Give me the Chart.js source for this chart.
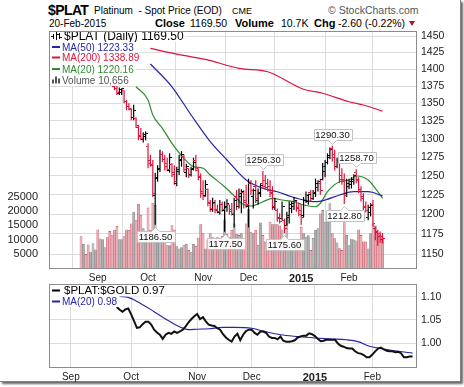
<!DOCTYPE html>
<html>
<head>
<meta charset="utf-8">
<script src="https://cdn.jsdelivr.net/npm/chart.js@4.4.1/dist/chart.umd.min.js"></script>
<style>
html,body{margin:0;padding:0;background:#fff}
body{width:464px;height:387px;position:relative;overflow:hidden;font-family:"Liberation Sans",Arial,sans-serif}
#frame{position:absolute;left:0;top:0;width:460px;height:381px;background:#fff;border-right:1px solid #808080;border-bottom:1px solid #808080;box-shadow:2px 2px 2px rgba(0,0,0,.6)}
.t{position:absolute;white-space:nowrap;line-height:1;color:#000}
.b{font-weight:bold}
canvas{position:absolute;left:0}
#tri{position:absolute;left:409px;top:21px;width:0;height:0;border-left:3.5px solid transparent;border-right:3.5px solid transparent;border-top:5px solid #b0102a}
</style>
</head>
<body>
<div id="frame"></div>
<div class="t b" style="left:48px;top:3px;font-size:14px;letter-spacing:-0.6px">$PLAT</div>
<div class="t" style="left:94px;top:5.5px;font-size:10px">Platinum&nbsp;&nbsp;- Spot Price (EOD)</div>
<div class="t" style="left:232px;top:6.5px;font-size:9px">CME</div>
<div class="t" style="left:328px;top:5px;font-size:10.5px;color:#555">© StockCharts.com</div>
<div class="t" style="left:49px;top:18.5px;font-size:10px">20-Feb-2015</div>
<div class="t b" style="left:155px;top:17.7px;font-size:11px">Close</div>
<div class="t" style="left:190px;top:18.1px;font-size:10.5px">1169.50</div>
<div class="t b" style="left:235px;top:17.7px;font-size:11px">Volume</div>
<div class="t" style="left:281px;top:18.1px;font-size:10.5px">10.7K</div>
<div class="t b" style="left:314px;top:17.7px;font-size:11px">Chg</div>
<div class="t" style="left:338px;top:18.1px;font-size:10.5px">-2.60 (-0.22%)</div>
<div id="tri"></div>
<canvas id="c1" width="464" height="290" style="top:0"></canvas>
<canvas id="c2" width="464" height="105" style="top:280px"></canvas>
<script>
// ---------- data ----------
const months   = ['Sep','Oct','Nov','Dec','2015','Feb'];
const monthIdx = [7, 28, 51, 70, 92, 112];
const priceTicks = [1150,1175,1200,1225,1250,1275,1300,1325,1350,1375,1400,1425,1450];
const volTicks   = [5000,10000,15000,20000,25000];
const ratioTicks = [1.00,1.05,1.10];

const priceStart = 14;
const high = [1377,1377,1373,1372,1369,1355,1350,1343,1348,1330,
1319,1315,1309,1310,1294,1278,1271,1254,1264,1285,
1283,1278,1274,1280,1267,1264,1262,1278,1283,1278,
1266,1260,1262,1274,1278,1260,1253,1244,1244,1233,
1218,1221,1218,1212,1218,1216,1216,1219,1212,1214,
1221,1231,1233,1232,1231,1238,1246,1244,1233,1244,
1233,1240,1256.3,1251,1246,1244,1236,1221,1207,1201,
1216,1194,1203,1216,1216,1222,1218,1214,1212,1222,
1229,1226,1231,1231,1246,1244,1246,1267,1271,1280,
1288,1290.3,1285,1274,1271,1260,1253,1246,1246,1248,
1252,1258.7,1248,1236,1227,1216,1212,1214,1218,1184,
1180,1178,1176];
const low = [1369,1362,1362,1362,1350,1340,1340,1326,1326,1315,
1298,1298,1295,1298,1260,1262,1222,1186.5,1242,1255,
1268,1257,1256,1254,1248,1238,1236,1251,1262,1255,
1248,1247,1249,1257,1256,1244,1221,1218,1222,1210,
1203,1203,1201,1201,1199,1203,1177.5,1203,1199,1198,
1183,1205,1207,1201,1207,1208,1183,1225,1207,1214,
1212,1222,1233,1231,1229,1222,1205,1205,1190,1188,
1192,1175.6,1185,1188,1201,1205,1203,1197,1186,1196,
1214,1212,1216,1218,1222,1229,1225,1244,1248,1265,
1272,1269,1257,1260,1240,1238,1212.8,1222,1232,1233,
1238,1240,1227,1216,1204,1202,1192,1197,1184,1167,
1160,1164,1163];
const open = [1375,1372,1364,1365,1368,1352,1346,1341,1330,1328,
1316,1305,1299,1303,1290,1270,1265,1224,1246,1258,
1279,1272,1266,1257,1265,1254,1240,1256,1270,1276,
1254,1260,1252,1258,1270,1257,1249,1229,1224,1232,
1215,1206,1214,1206,1202,1212,1205,1208,1212,1206,
1200,1222,1210,1222,1228,1218,1210,1240,1222,1235,
1218,1226,1240,1244,1240,1236,1228,1208,1205,1196,
1194,1192,1186,1195,1207,1210,1216,1208,1204,1198,
1217,1216,1228,1220,1226,1234,1240,1245,1256,1268,
1274,1286,1278,1262,1268,1250,1245,1226,1236,1238,
1242,1254,1245,1232,1222,1210,1196,1202,1212,1182,
1176,1172,1168];
const close = [1371,1365,1370,1371,1352,1345,1342,1330,1340,1318,
1303,1300,1306,1308,1266,1264,1226,1248,1260,1278,
1271,1262,1258,1274,1252,1242,1258,1272,1278,1258,
1262,1250,1259,1268,1259,1247,1226,1222,1238,1214,
1207,1215,1205,1203,1212,1206,1210,1214,1203,1201,
1218,1210,1226,1229,1215,1212,1240,1230,1231,1220,
1228,1237,1236,1234,1231,1226,1209,1216,1194,1191,
1210,1182,1198,1212,1214,1218,1207,1200,1195,1218,
1224,1225,1220,1228,1240,1242,1231,1262,1268,1277,
1285,1274,1262,1270,1245,1242,1224,1240,1242,1245,
1250,1244,1232,1220,1208,1205,1208,1211,1188,1178,
1175,1172.1,1169.5];
const volume = [11200,8500,4900,8300,5700,8700,6500,13600,10400,10100,
7300,10800,13000,11700,13500,14800,10100,10100,11200,13600,
13400,15700,19800,17000,22600,18700,14000,11500,21300,13500,
23000,22200,10500,10500,9500,9300,8000,8000,15100,13600,
7700,6900,7300,8200,8500,6300,5700,8500,7800,10700,
15400,12200,6900,10000,12200,10800,9300,10800,9300,11300,
17100,12000,11000,13400,15700,12000,11600,12200,7700,15700,
20700,12800,12200,13400,8100,16000,11600,9300,10000,16300,
15400,15400,15400,15000,13600,10900,17600,9000,8000,6300,
7500,9000,14500,12200,11000,11500,6300,10600,13400,14000,
19200,20400,16300,19200,22800,12200,10500,9000,7000,6300,
19800,11600,8000,10300,10000,9700,13600,11600,9300,9300,
6900,12200,15700,15000,12200,11600,10656];
// u = up day (black / gray), d = down day (red / pink)
const dirs = ("dudduuuduu uddddduudd dduddduudd duuudddudd uuududuudd ddudduddud " +
              "uudduduudd ududuudddd dudduduuuu ddduuuduuu duuuuddudd duuuuddddd uuddddd").replace(/ /g,'');

const ma50Idx  = [29,38,46,54,61,69,76,82,88,93,98,102,108,114,120,126];
const ma50Val  = [1407.7,1374,1333.3,1296,1271,1244.2,1233.3,1228.8,1222.3,1218,1215.8,1218,1224.5,1228.8,1228.8,1223.33];
const ma200Idx = [29,40,52,66,78,93,101,112,118,126];
const ma200Val = [1431.3,1422.6,1414.6,1401.2,1396.1,1370.3,1364.5,1352.3,1347.6,1338.89];
const ma20Idx  = [23,28,30,34,38,43,47,51,54,60,65,67,71,76,80,84,89,93,98,100,103,108,112,115,120,123,126];
const ma20Val  = [1374,1354.7,1333.3,1314.6,1293.8,1273.3,1262.1,1259.8,1250.8,1235.4,1220.2,1213.8,1210.3,1215.8,1220.2,1218,1215.8,1211.6,1209.3,1213.8,1228.8,1241.9,1244.2,1249.5,1244.2,1233.3,1220.16];

const ratioStart = 23;
const ratio = [1.078,1.072,1.068,1.073,1.075,1.062,1.048,1.033,1.034,1.041,
1.046,1.046,1.040,1.029,1.023,1.018,1.009,1.018,1.022,1.020,
1.025,1.022,1.025,1.029,1.036,1.045,1.052,1.058,1.063,1.052,
1.056,1.047,1.040,1.038,1.037,1.032,1.029,1.019,1.012,1.007,
1.003,1.014,1.020,1.006,1.018,1.026,1.029,1.029,1.022,1.018,
1.025,1.025,1.022,1.014,1.011,1.011,1.008,1.014,1.005,1.003,
1.003,1.004,1.006,1.012,1.014,1.016,1.016,1.021,1.019,1.015,
1.009,1.004,1.005,1.007,1.007,1.007,1.007,0.999,0.994,0.992,
0.989,0.988,0.988,0.982,0.978,0.977,0.974,0.969,0.969,0.975,
0.982,0.988,0.990,0.986,0.983,0.982,0.982,0.980,0.981,0.978,
0.969,0.969,0.971,0.971];
const ratioMaIdx = [24,27,31,36,40,45,48,51,55,60,64,70,74,80,86,92,97,103,107,111,116,121,126];
const ratioMaVal = [1.101,1.099,1.087,1.068,1.052,1.035,1.029,1.030,1.031,1.034,1.034,1.032,1.026,1.018,1.014,1.011,1.009,1.007,1.003,0.993,0.987,0.982,0.978];

const tagIdx   = [31, 60, 76, 85, 105, 110, 115];
const tagVal   = [1186.50, 1177.50, 1256.30, 1175.60, 1290.30, 1212.80, 1258.70];
const tagBelow = [true, true, false, true, false, true, false];

// ---------- styling ----------
const FF = '"Liberation Sans", Arial, sans-serif';
const RED = '#dc143c', BLK = '#000000';
const PINK_F = '#e8a4ac', PINK_L = '#cf5a6c', GRAY_F = '#adadad', GRAY_L = '#808080';
const C50 = '#2525a5', C200 = '#dc143c', C20 = '#2e8b2e', GRID = '#dcdcdc';
const X_MIN = -0.6, X_MAX = 127.2;

const down = i => dirs[i] === 'd';
const seq = (start, arr) => arr.map((v, k) => ({x: start + k, y: v}));
const pairs = (ix, vals) => ix.map((x, k) => ({x: x, y: vals[k]}));

function tickImg(color, left) {
  const c = document.createElement('canvas'); c.width = 5; c.height = 1;
  const g = c.getContext('2d'); g.fillStyle = color; g.fillRect(left ? 0 : 3, 0, 2, 1);
  return c;
}
const IMG = {dL: tickImg(RED, true), dR: tickImg(RED, false), uL: tickImg(BLK, true), uR: tickImg(BLK, false)};

function noPad(s) { s.paddingTop = 0; s.paddingBottom = 0; s.paddingLeft = 0; s.paddingRight = 0; }

function xAxis(h) {
  return {
    type: 'linear', min: X_MIN, max: X_MAX, bounds: 'data',
    afterBuildTicks: s => { s.ticks = monthIdx.map(v => ({value: v})); },
    afterFit: s => { s.height = h; noPad(s); },
    ticks: {
      autoSkip: false, maxRotation: 0, padding: 4, color: '#222',
      font: c => (c.tick && c.tick.value === 92) ? {family: FF, size: 11, weight: 'bold'} : {family: FF, size: 10},
      callback: v => months[monthIdx.indexOf(v)]
    },
    grid: {color: GRID, drawTicks: false},
    border: {display: false}
  };
}

function drawTag(ctx, x, y, text, below) {
  ctx.font = '9.5px ' + FF;
  const w = Math.round(ctx.measureText(text).width) + 4, h = 11;
  x = Math.round(x) + 0.5;
  const bx = Math.round(x - w / 2) + 0.5;
  const by = below ? Math.round(y + 6) + 0.5 : Math.round(y - 6 - h) + 0.5;
  ctx.beginPath();
  if (below) {
    ctx.moveTo(bx, by); ctx.lineTo(x - 4, by); ctx.lineTo(x, by - 4); ctx.lineTo(x + 4, by);
    ctx.lineTo(bx + w, by); ctx.lineTo(bx + w, by + h); ctx.lineTo(bx, by + h); ctx.closePath();
  } else {
    ctx.moveTo(bx, by); ctx.lineTo(bx + w, by); ctx.lineTo(bx + w, by + h); ctx.lineTo(x + 4, by + h);
    ctx.lineTo(x, by + h + 4); ctx.lineTo(x - 4, by + h); ctx.lineTo(bx, by + h); ctx.closePath();
  }
  ctx.fillStyle = 'rgba(255,255,255,0.92)'; ctx.fill();
  ctx.strokeStyle = '#c2c2c2'; ctx.lineWidth = 1; ctx.stroke();
  ctx.fillStyle = '#111'; ctx.textAlign = 'center'; ctx.textBaseline = 'middle';
  ctx.fillText(text, x, by + h / 2 + 0.5);
}

function drawRows(ctx, left, rows) {
  rows.forEach(r => {
    ctx.font = r.font;
    const w = ctx.measureText(r.text).width;
    ctx.fillStyle = '#fff';
    ctx.fillRect(left + 1, r.top, r.tx + w + 2 - left - 1, r.bottom - r.top);
    ctx.fillStyle = r.color;
    if (r.icon === 'line') ctx.fillRect(52, r.base - 4.5, 8, 2);
    if (r.icon === 'ohlc') {
      ctx.fillRect(53, r.base - 6, 1, 5); ctx.fillRect(51, r.base - 4, 2, 1);
      ctx.fillRect(56, r.base - 8, 1, 8); ctx.fillRect(57, r.base - 6, 2, 1);
      ctx.fillRect(59, r.base - 7, 1, 6); ctx.fillRect(60, r.base - 3, 2, 1);
    }
    if (r.icon === 'vol') {
      ctx.fillRect(52, r.base - 4, 2, 4); ctx.fillRect(55, r.base - 7, 2, 7); ctx.fillRect(58, r.base - 5, 2, 5);
    }
    ctx.textAlign = 'left'; ctx.textBaseline = 'alphabetic';
    ctx.fillText(r.text, r.tx, r.base);
  });
}

function frameArea(ctx, a) {
  const L = Math.round(a.left), T = Math.round(a.top), R = Math.round(a.right), B = Math.round(a.bottom);
  ctx.strokeStyle = '#8c8c8c'; ctx.lineWidth = 1;
  ctx.strokeRect(L + 0.5, T + 0.5, R - L, B - T);
}

const last = arr => arr[arr.length - 1];
const rows1 = [
  {text: '$PLAT (Daily) ' + last(close).toFixed(2), font: '12px ' + FF, color: '#000', tx: 64, base: 40, top: 32, bottom: 42, icon: 'ohlc'},
  {text: 'MA(50) ' + last(ma50Val).toFixed(2), font: '10px ' + FF, color: C50, tx: 62, base: 50.5, top: 42, bottom: 52.5, icon: 'line'},
  {text: 'MA(200) ' + last(ma200Val).toFixed(2), font: '10px ' + FF, color: C200, tx: 62, base: 61, top: 52.5, bottom: 63.5, icon: 'line'},
  {text: 'MA(20) ' + last(ma20Val).toFixed(2), font: '10px ' + FF, color: C20, tx: 62, base: 72.5, top: 63.5, bottom: 74.5, icon: 'line'},
  {text: 'Volume ' + last(volume).toLocaleString('en-US'), font: '10px ' + FF, color: '#555', tx: 62, base: 83.5, top: 74.5, bottom: 86, icon: 'vol'}
];
const rows2 = [
  {text: '$PLAT:$GOLD ' + last(ratio).toFixed(2), font: '11.5px ' + FF, color: '#000', tx: 64, base: 14, top: 5, bottom: 16.5, icon: 'line'},
  {text: 'MA(20) ' + last(ratioMaVal).toFixed(2), font: '10px ' + FF, color: C50, tx: 62, base: 25, top: 16.5, bottom: 27, icon: 'line'}
];

const deco1 = {
  id: 'deco1',
  afterDatasetsDraw(chart) {
    const {ctx, chartArea: a, scales} = chart;
    ctx.save();
    tagIdx.forEach((ix, k) => drawTag(ctx, scales.x.getPixelForValue(ix), scales.y.getPixelForValue(tagVal[k]), tagVal[k].toFixed(2), tagBelow[k]));
    drawRows(ctx, Math.round(a.left), rows1);
    frameArea(ctx, a);
    ctx.restore();
  }
};
const deco2 = {
  id: 'deco2',
  afterDatasetsDraw(chart) {
    const {ctx, chartArea: a} = chart;
    ctx.save();
    drawRows(ctx, Math.round(a.left), rows2);
    frameArea(ctx, a);
    ctx.restore();
  }
};

// ---------- build points ----------
const hlPts = high.map((h, k) => ({x: priceStart + k, y: [low[k], h]}));
const openPts = seq(priceStart, open);
const closePts = seq(priceStart, close);
const volPts = seq(0, volume);
const colorAt = (c, dn, up) => (c.raw && down(c.raw.x)) ? dn : up;

const common = {
  responsive: false, animation: false, devicePixelRatio: 1, events: [],
  plugins: {legend: {display: false}, tooltip: {enabled: false}, title: {display: false}}
};

new Chart(document.getElementById('c1'), {
  type: 'bar',
  data: {
    datasets: [
      {type: 'scatter', data: openPts, xAxisID: 'x', yAxisID: 'y', pointRadius: 1, order: 0,
       pointStyle: c => colorAt(c, IMG.dL, IMG.uL)},
      {type: 'scatter', data: closePts, xAxisID: 'x', yAxisID: 'y', pointRadius: 1, order: 0,
       pointStyle: c => colorAt(c, IMG.dR, IMG.uR)},
      {type: 'bar', data: hlPts, xAxisID: 'x', yAxisID: 'y', barThickness: 1.2, grouped: false,
       borderWidth: 0, inflateAmount: 0, order: 1, backgroundColor: c => colorAt(c, RED, BLK)},
      {type: 'line', data: pairs(ma50Idx, ma50Val), xAxisID: 'x', yAxisID: 'y', borderColor: C50, borderWidth: 1.2,
       pointRadius: 0, cubicInterpolationMode: 'monotone', fill: false, order: 2},
      {type: 'line', data: pairs(ma200Idx, ma200Val), xAxisID: 'x', yAxisID: 'y', borderColor: C200, borderWidth: 1.2,
       pointRadius: 0, cubicInterpolationMode: 'monotone', fill: false, order: 2},
      {type: 'line', data: pairs(ma20Idx, ma20Val), xAxisID: 'x', yAxisID: 'y', borderColor: C20, borderWidth: 1.2,
       pointRadius: 0, cubicInterpolationMode: 'monotone', fill: false, order: 2},
      {type: 'bar', data: volPts, xAxisID: 'x', yAxisID: 'yv', barThickness: 2.8, grouped: false, order: 10,
       inflateAmount: 0, borderWidth: 0.8, borderSkipped: 'start',
       backgroundColor: c => colorAt(c, PINK_F, GRAY_F), borderColor: c => colorAt(c, PINK_L, GRAY_L)}
    ]
  },
  options: Object.assign({}, common, {
    layout: {padding: {top: 31, left: 0, right: 0, bottom: 0}},
    scales: {
      x: xAxis(22),
      y: {
        type: 'logarithmic', position: 'right', min: 1133, max: 1458, bounds: 'data',
        afterBuildTicks: s => { s.ticks = priceTicks.map(v => ({value: v})); },
        ticks: {color: '#222', padding: 5, font: {family: FF, size: 10.5}, callback: v => String(v)},
        grid: {color: GRID, drawTicks: false}, border: {display: false},
        afterFit: s => { s.width = 48; noPad(s); }
      },
      yv: {
        type: 'linear', position: 'left', min: 0, max: 83500, bounds: 'data',
        afterBuildTicks: s => { s.ticks = volTicks.map(v => ({value: v})); },
        ticks: {color: '#222', padding: 3, font: {family: FF, size: 11}, callback: v => String(v)},
        grid: {display: false}, border: {display: false},
        afterFit: s => { s.width = 49; noPad(s); }
      }
    }
  }),
  plugins: [deco1]
});

new Chart(document.getElementById('c2'), {
  type: 'line',
  data: {
    datasets: [
      {data: seq(ratioStart, ratio), xAxisID: 'x', yAxisID: 'y', borderColor: '#111', borderWidth: 2,
       pointRadius: 0, tension: 0, fill: false, order: 0},
      {data: pairs(ratioMaIdx, ratioMaVal), xAxisID: 'x', yAxisID: 'y', borderColor: C50, borderWidth: 1.1,
       pointRadius: 0, cubicInterpolationMode: 'monotone', fill: false, order: 1}
    ]
  },
  options: Object.assign({}, common, {
    layout: {padding: {top: 4, left: 49, right: 0, bottom: 0}},
    scales: {
      x: xAxis(18),
      y: {
        type: 'linear', position: 'right', min: 0.948, max: 1.128, bounds: 'data',
        afterBuildTicks: s => { s.ticks = ratioTicks.map(v => ({value: v})); },
        ticks: {color: '#222', padding: 5, font: {family: FF, size: 10.5}, callback: v => v.toFixed(2)},
        grid: {color: GRID, drawTicks: false}, border: {display: false},
        afterFit: s => { s.width = 48; noPad(s); }
      }
    }
  }),
  plugins: [deco2]
});
</script>
</body>
</html>
